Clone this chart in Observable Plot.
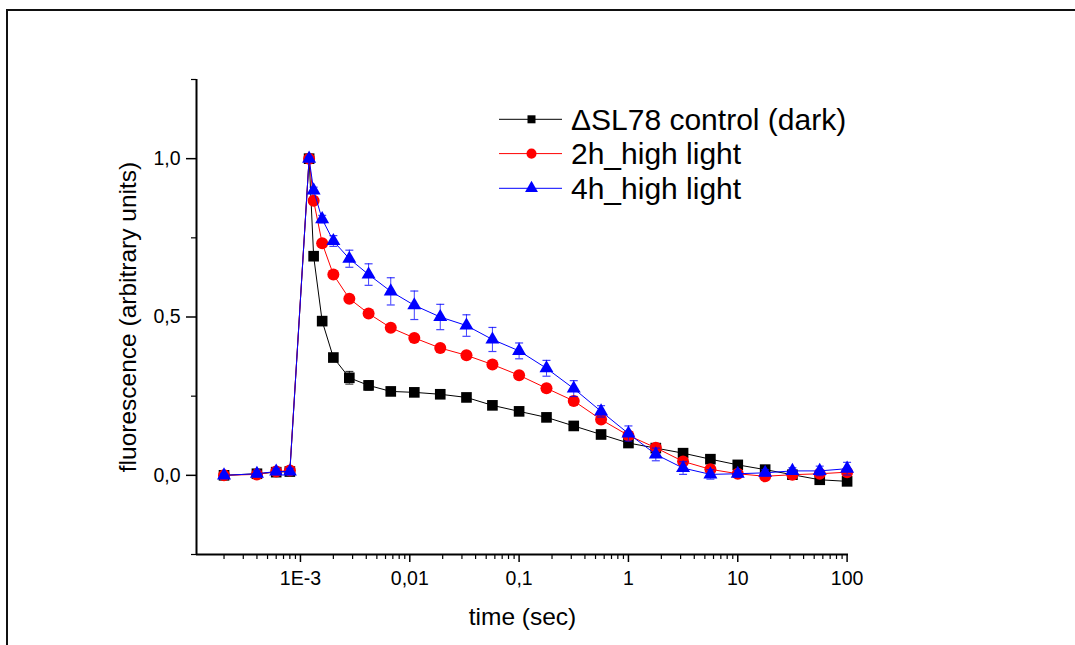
<!DOCTYPE html>
<html><head><meta charset="utf-8">
<script src="https://cdn.jsdelivr.net/npm/d3@7"></script>
<script src="https://cdn.jsdelivr.net/npm/@observablehq/plot@0.6"></script>
<style>
html,body{margin:0;padding:0;background:#fff;}
#wrap{position:relative;width:1075px;height:645px;overflow:hidden;font-family:Arial,"Liberation Sans",sans-serif;background:#fff;}
#border{position:absolute;left:6px;top:9px;width:1100px;height:700px;border-top:2px solid #111;border-left:2px solid #111;}
#chart{position:absolute;left:0;top:0;}
#legend{position:absolute;left:0;top:0;}
</style></head><body>
<div id="wrap"><div id="border"></div><div id="chart"></div><svg id="legend" width="1075" height="645"></svg></div>
<script>
// ---- data ----
const times = [2e-4, 4e-4, 6e-4, 8e-4, 1.2e-3, 1.32e-3, 1.58e-3, 2.0e-3, 2.8e-3, 4.2e-3, 6.7e-3, 0.011, 0.019, 0.033, 0.057, 0.1, 0.178, 0.316, 0.562, 1, 1.78, 3.16, 5.62, 10, 17.8, 31.6, 56.2, 100];
const seriesNames = ["\u0394SL78 control (dark)", "2h_high light", "4h_high light"];
const controlDark = [0.0, 0.005, 0.01, 0.012, 1.0, 0.692, 0.487, 0.372, 0.308, 0.284, 0.265, 0.262, 0.256, 0.246, 0.221, 0.202, 0.183, 0.156, 0.129, 0.102, 0.086, 0.070, 0.051, 0.033, 0.018, 0.002, -0.014, -0.019];
const controlErr  = [0.005, 0.01, 0.01, 0.01, 0.005, 0.01, 0.012, 0.012, 0.02, 0.015, 0.01, 0.01, 0.01, 0.01, 0.01, 0.01, 0.01, 0.01, 0.01, 0.01, 0.01, 0.01, 0.01, 0.01, 0.01, 0.01, 0.01, 0.01];
const highLight2h = [0.0, 0.003, 0.012, 0.015, 1.0, 0.867, 0.733, 0.634, 0.558, 0.511, 0.466, 0.434, 0.402, 0.379, 0.350, 0.316, 0.275, 0.235, 0.176, 0.126, 0.087, 0.044, 0.019, 0.005, -0.003, 0.002, 0.005, 0.010];
const highLight2hErr = [0.005, 0.01, 0.01, 0.01, 0.005, 0.008, 0.008, 0.01, 0.01, 0.01, 0.01, 0.01, 0.01, 0.01, 0.01, 0.01, 0.012, 0.012, 0.012, 0.012, 0.01, 0.012, 0.01, 0.01, 0.01, 0.01, 0.01, 0.01];
const highLight4h = [0.0, 0.005, 0.012, 0.012, 1.0, 0.900, 0.809, 0.740, 0.684, 0.634, 0.581, 0.537, 0.500, 0.473, 0.429, 0.393, 0.338, 0.274, 0.202, 0.132, 0.066, 0.023, 0.003, 0.005, 0.008, 0.014, 0.014, 0.021];
const highLight4hErr = [0.005, 0.01, 0.01, 0.01, 0.005, 0.01, 0.012, 0.017, 0.027, 0.034, 0.043, 0.045, 0.04, 0.034, 0.038, 0.025, 0.025, 0.025, 0.018, 0.024, 0.02, 0.02, 0.015, 0.01, 0.01, 0.01, 0.015, 0.02];

const majorXTicks = [1e-3, 1e-2, 0.1, 1, 10, 100];
const majorXLabels = ["1E-3", "0,01", "0,1", "1", "10", "100"];
const majorYTicks = [0, 0.5, 1];
const majorYLabels = ["0,0", "0,5", "1,0"];
const minorYTicks = [-0.25, 0.25, 0.75, 1.25];
const xTitle = "time (sec)";
const yTitle = "fluorescence (arbitrary units)";

// ---- styles ----
const xDomain = [1.12e-4, 103];
const yDomain = [-0.25, 1.25];
const colors = ["#000000", "#ff0000", "#0000ff"];
const symbols = ["square", "circle", "triangle"];
const radii = [6.0, 6.0, 5.2];

const minorXTicks = [];
for (let e = -4; e <= 1; e++) for (let k = 2; k <= 9; k++) {
  const v = k * Math.pow(10, e);
  if (v > xDomain[0] && v < xDomain[1]) minorXTicks.push(v);
}

const seriesValues = [controlDark, highLight2h, highLight4h];
const seriesErrors = [controlErr, highLight2hErr, highLight4hErr];
const rowsBySeries = seriesNames.map((name, si) => times.map((t, i) => ({series: name, t, v: seriesValues[si][i], e: seriesErrors[si][i]})));

const xLab = new Map(majorXTicks.map((d, i) => [d, majorXLabels[i]]));
const yLab = new Map(majorYTicks.map((d, i) => [d, majorYLabels[i]]));

const capSymbol = { draw(ctx) { ctx.moveTo(-4, 0); ctx.lineTo(4, 0); } };

const marks = [
  Plot.ruleX([xDomain[0]], {strokeWidth: 2}),
  Plot.ruleY([yDomain[0]], {strokeWidth: 2}),
  Plot.axisX(majorXTicks, {anchor: "bottom", tickSize: 8, tickPadding: 9, tickFormat: d => xLab.get(d), fontSize: 19.5, strokeWidth: 1.5, label: null}),
  Plot.axisX(minorXTicks, {anchor: "bottom", tickSize: 5, fill: "none", strokeWidth: 1.2, label: null}),
  Plot.axisY(majorYTicks, {anchor: "left", tickSize: 10, tickPadding: 6, tickFormat: d => yLab.get(d), fontSize: 19.5, strokeWidth: 1.5, label: null}),
  Plot.axisY(minorYTicks, {anchor: "left", tickSize: 5, fill: "none", strokeWidth: 1.2, label: null}),
  Plot.text([xTitle], {text: d => d, frameAnchor: "bottom", lineAnchor: "middle", textAnchor: "middle", dy: 63, fontSize: 24.5}),
  Plot.text([yTitle], {text: d => d, frameAnchor: "left", lineAnchor: "middle", textAnchor: "middle", dx: -68, rotate: -90, fontSize: 24.5})
];

rowsBySeries.forEach((rows, si) => {
  const c = colors[si];
  marks.push(Plot.line(rows, {x: "t", y: "v", stroke: c, strokeWidth: 1}));
  marks.push(Plot.ruleX(rows, {x: "t", y1: d => d.v - d.e, y2: d => d.v + d.e, stroke: c, strokeWidth: 1, strokeOpacity: 0.75}));
  marks.push(Plot.dot(rows, {x: "t", y: d => d.v + d.e, symbol: capSymbol, fill: "none", stroke: c, strokeWidth: 1.2, strokeOpacity: 0.75}));
  marks.push(Plot.dot(rows, {x: "t", y: d => d.v - d.e, symbol: capSymbol, fill: "none", stroke: c, strokeWidth: 1.2, strokeOpacity: 0.75}));
  marks.push(Plot.dot(rows, {x: "t", y: "v", symbol: symbols[si], r: radii[si], fill: c, stroke: "none"}));
});

const chart = Plot.plot({
  width: 1075, height: 645,
  marginLeft: 196, marginRight: 227, marginTop: 79, marginBottom: 91,
  x: {type: "log", domain: xDomain, label: null},
  y: {domain: yDomain, label: null},
  style: {fontFamily: 'Arial, "Liberation Sans", sans-serif', color: "black", background: "transparent", fontSize: "19.5px", overflow: "visible"},
  marks
});
document.getElementById("chart").appendChild(chart);

// ---- legend ----
const legendRowsY = [119.3, 153.6, 188.3];
const legendSymbolAreas = [64, 80, 72];
const d3Symbols = [d3.symbolSquare, d3.symbolCircle, d3.symbolTriangle];
const lg = d3.select("#legend");
seriesNames.forEach((name, i) => {
  const y = legendRowsY[i];
  lg.append("line").attr("x1", 499).attr("x2", 562).attr("y1", y).attr("y2", y).attr("stroke", colors[i]).attr("stroke-width", 1);
  lg.append("path").attr("d", d3.symbol(d3Symbols[i], legendSymbolAreas[i])()).attr("transform", `translate(531.5,${y})`).attr("fill", colors[i]);
  lg.append("text").attr("x", 571).attr("y", y).attr("dominant-baseline", "central")
    .attr("font-family", 'Arial, "Liberation Sans", sans-serif').attr("font-size", 30).attr("fill", "#000").text(name);
});
</script>
</body></html>
